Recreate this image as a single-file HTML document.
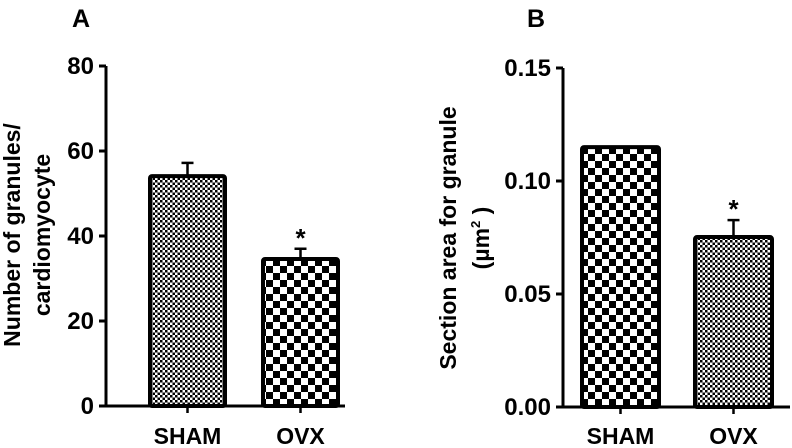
<!DOCTYPE html>
<html><head><meta charset="utf-8"><style>
html,body{margin:0;padding:0;background:#fff;}
svg{display:block;font-family:"Liberation Sans",Arial,sans-serif;font-weight:bold;}
</style></head><body>
<svg id="c" width="792" height="448" viewBox="0 0 792 448">
<defs>
<pattern id="fine" width="5" height="5" patternUnits="userSpaceOnUse"><rect width="5" height="5" fill="#fff"/><rect width="2.5" height="2.5" fill="#000"/><rect x="2.5" y="2.5" width="2.5" height="2.5" fill="#000"/></pattern>
<pattern id="coarse" width="14" height="14" patternUnits="userSpaceOnUse"><rect width="14" height="14" fill="#fff"/><rect width="7" height="7" fill="#000"/><rect x="7" y="7" width="7" height="7" fill="#000"/></pattern>
</defs>
<text x="81" y="27" font-size="25" text-anchor="middle">A</text>
<text x="536" y="27" font-size="25" text-anchor="middle">B</text>
<text transform="translate(20,235) rotate(-90)" font-size="23" text-anchor="middle">Number of granules/</text>
<text transform="translate(50,235) rotate(-90)" font-size="23" text-anchor="middle">cardiomyocyte</text>
<text transform="translate(456,238) rotate(-90)" font-size="23" text-anchor="middle">Section area for granule</text>
<text transform="translate(489,238) rotate(-90)" font-size="23" text-anchor="middle">(µm<tspan font-size="13" dy="-9">2</tspan><tspan dy="9"> )</tspan></text>
</svg>
<script>
var categories = ["SHAM","OVX"];
var valuesA = [54.1, 34.6];
var errorsA = [3.1, 2.4];
var ticksA = ["0","20","40","60","80"];
var valuesB = [0.115, 0.0752];
var errorsB = [0, 0.0075];
var ticksB = ["0.00","0.05","0.10","0.15"];

var svg = document.getElementById('c');
var NS = 'http://www.w3.org/2000/svg';
function mk(tag, attrs, parent){var e=document.createElementNS(NS,tag);for(var k in attrs)e.setAttribute(k,attrs[k]);(parent||svg).appendChild(e);return e;}

function panel(cfg){
  var y = function(v){return cfg.y0 - (v - 0) / cfg.max * (cfg.y0 - cfg.yTop);};
  var ax = mk('line',{x1:cfg.ax,y1:cfg.yTop,x2:cfg.ax,y2:cfg.y0,stroke:'#000','stroke-width':3});
  
  
  var xl = mk('line',{x1:cfg.ax,y1:cfg.y0,x2:cfg.axEnd,y2:cfg.y0,stroke:'#000','stroke-width':3});
  
  
  cfg.ticks.forEach(function(t){
    var v = parseFloat(t), yy = y(v);
    var tk = mk('line',{x1:cfg.ax-7,y1:yy,x2:cfg.ax,y2:yy,stroke:'#000','stroke-width':3});
    
    
    var tl = mk('text',{x:cfg.ax-12,y:yy+8,'font-size':24,'text-anchor':'end'});
    tl.textContent = t;
    
    
  });
  categories.forEach(function(c,i){
    var x0 = cfg.barX[i], w = cfg.barW, top = y(cfg.vals[i]);
    if(cfg.errs[i]>0){
      var et = y(cfg.vals[i]+cfg.errs[i]);
      var el = mk('line',{x1:x0+w/2,y1:et,x2:x0+w/2,y2:top,stroke:'#000','stroke-width':2.5});
      
      
      var ec = mk('line',{x1:x0+w/2-6,y1:et,x2:x0+w/2+6,y2:et,stroke:'#000','stroke-width':2.5});
      
      
    }
    var r = mk('rect',{x:x0,y:top,width:w,height:cfg.y0-top,fill:'url(#'+cfg.pats[i]+')',stroke:'#000','stroke-width':4,rx:2});
    
    
    var cx = x0+w/2;
    var xt = mk('line',{x1:cx,y1:cfg.y0,x2:cx,y2:cfg.y0+7,stroke:'#000','stroke-width':2.5});
    
    
    var lb = mk('text',{x:cx,y:444,'font-size':23,'text-anchor':'middle'});
    lb.textContent = c;
    
    
    if(i==1){
      var st = mk('text',{x:cx,y:y(cfg.vals[i]+cfg.errs[i])-2,'font-size':26,'text-anchor':'middle'});
      st.textContent = '*';
      
      
    }
  });
}
panel({id:'a',ax:106,axEnd:345,yTop:66,y0:406,max:80,ticks:ticksA,vals:valuesA,errs:errorsA,barX:[150,263],barW:75,pats:['fine','coarse']});
panel({id:'b',ax:563,axEnd:790,yTop:68,y0:407,max:0.15,ticks:ticksB,vals:valuesB,errs:errorsB,barX:[582,695],barW:77,pats:['coarse','fine']});
</script>
</body></html>
